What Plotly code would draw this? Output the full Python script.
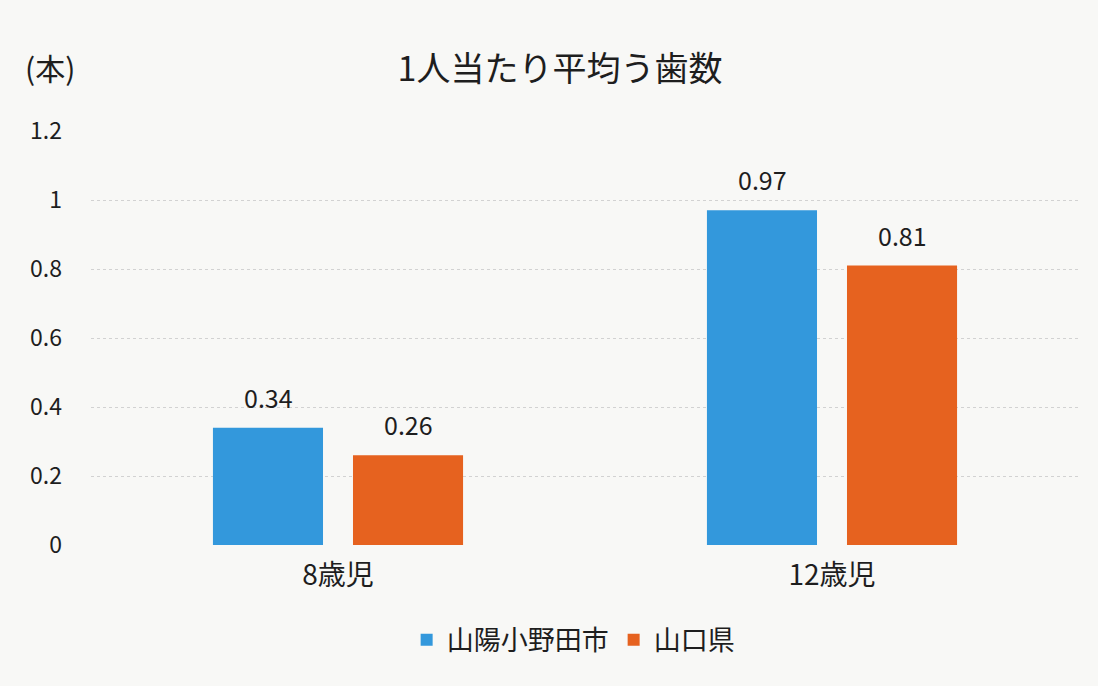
import plotly.graph_objects as go

categories = ["8歳児", "12歳児"]
sanyo_onoda = [0.34, 0.97]
yamaguchi = [0.26, 0.81]
series_names = ["山陽小野田市", "山口県"]
y_ticks = [0, 0.2, 0.4, 0.6, 0.8, 1, 1.2]
y_tick_labels = ["0", "0.2", "0.4", "0.6", "0.8", "1", "1.2"]

FONT = "Noto Sans CJK JP, Noto Sans, sans-serif"
BLUE = "#3398dc"
ORANGE = "#e6621f"
TXT = "#1e1e1e"

fig = go.Figure()
series = [(series_names[0], sanyo_onoda, BLUE, -70), (series_names[1], yamaguchi, ORANGE, 70)]
annotations = []
for name, vals, col, shift in series:
    fig.add_trace(go.Bar(
        x=categories, y=vals, name=name, marker=dict(color=col, line=dict(width=0)),
    ))
    for c, v in zip(categories, vals):
        annotations.append(dict(x=c, y=v, xref="x", yref="y", text=str(v), showarrow=False,
                                xshift=shift, yshift=31, yanchor="middle", xanchor="center",
                                font=dict(size=25, color=TXT, family=FONT)))

annotations.append(dict(text="(本)", xref="paper", yref="paper", x=-0.041, y=1.155,
                        xanchor="center", yanchor="middle", showarrow=False,
                        font=dict(size=30, family=FONT, color=TXT)))

fig.update_layout(
    width=1098, height=686,
    paper_bgcolor="#f8f8f6", plot_bgcolor="#f8f8f6",
    font=dict(family=FONT, color=TXT, size=23),
    margin=dict(l=91, r=19, t=131, b=141),
    barmode="group", bargap=0.433, bargroupgap=0.214,
    title=dict(text="1人当たり平均う歯数", x=0.51, xanchor="center", y=0.9, yanchor="middle",
               font=dict(size=34, family=FONT, color=TXT)),
    showlegend=True,
    legend=dict(orientation="h", x=0.488, xanchor="center", y=-0.23, yanchor="middle",
                font=dict(size=27, family=FONT), itemwidth=30, traceorder="normal",
                bgcolor="rgba(0,0,0,0)"),
    xaxis=dict(showline=False, ticks="", tickfont=dict(size=28), showgrid=False,
               ticklabelstandoff=11),
    yaxis=dict(range=[0, 1.2], tickvals=y_ticks, ticktext=y_tick_labels, showgrid=True,
               gridcolor="#d2d2d2", griddash="dot", gridwidth=1, zeroline=False,
               ticks="", ticklabelstandoff=28, tickfont=dict(size=23)),
    annotations=annotations,
)

fig.write_html("out.html", config={"displayModeBar": False},
               post_script="document.body.style.margin='0';document.body.style.padding='0';")
